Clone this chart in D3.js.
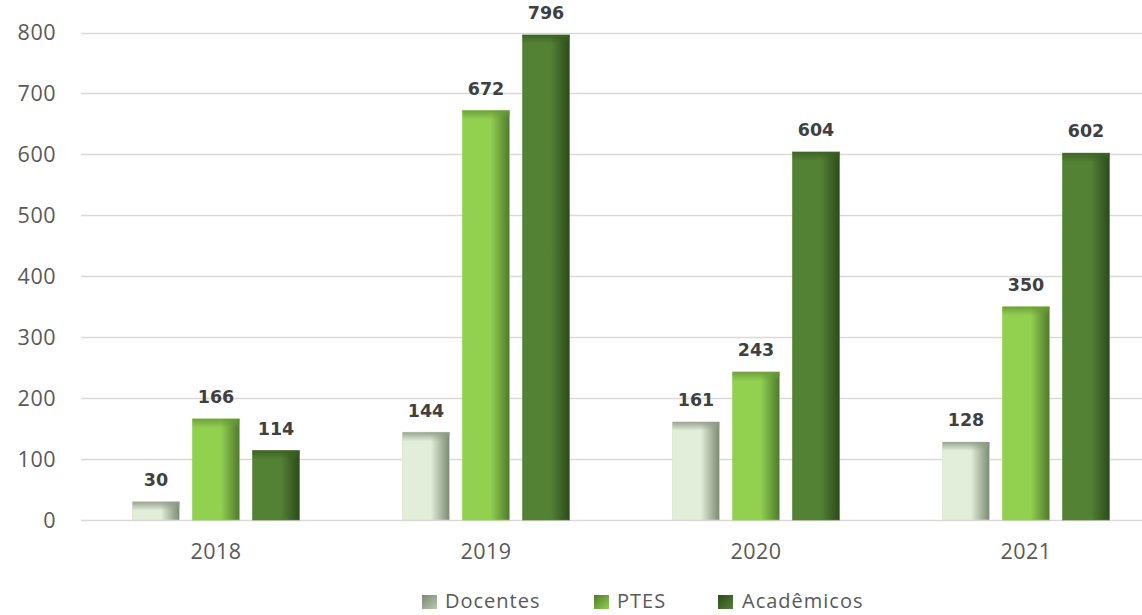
<!DOCTYPE html>
<html>
<head>
<meta charset="utf-8">
<script src="https://cdn.jsdelivr.net/npm/d3@7"></script>
<style>
  body { margin: 0; background: #fff; }
  svg { display: block; }
</style>
</head>
<body>
<div id="chart"></div>
<script>
// Chart data
const years = ["2018", "2019", "2020", "2021"];
const seriesNames = ["Docentes", "PTES", "Acadêmicos"];
const docentes = [30, 144, 161, 128];
const ptes = [166, 672, 243, 350];
const academicos = [114, 796, 604, 602];
const yTicks = [0, 100, 200, 300, 400, 500, 600, 700, 800];

const seriesValues = [docentes, ptes, academicos];

// Colours per series: face, dark edge, top bevel
const palette = [
    { face: "#e2eed9", dark: "#7b8a73", top: "#8f9c88" },
    { face: "#92d050", dark: "#4f7a2c", top: "#6b9a3d" },
    { face: "#548235", dark: "#2c4a1b", top: "#3b5f25" }
];

const width = 1142, height = 615;

const svg = d3.select("#chart")
    .append("svg")
    .attr("width", width)
    .attr("height", height);

// Scales
const x = d3.scaleBand()
    .domain(years)
    .range([81, 1161]);

const x1 = d3.scaleBand()
    .domain(seriesNames)
    .range([51.5, 218.5])
    .paddingInner(13 / 60);

const y = d3.scaleLinear()
    .domain([0, 800])
    .range([520, 32.5]);

// Gradients
const defs = svg.append("defs");
palette.forEach((p, i) => {
    const g = defs.append("linearGradient")
        .attr("id", "face" + i)
        .attr("x1", "0%").attr("x2", "100%").attr("y1", "0%").attr("y2", "0%");
    g.append("stop").attr("offset", "0%").attr("stop-color", p.face);
    g.append("stop").attr("offset", "60%").attr("stop-color", p.face);
    g.append("stop").attr("offset", "100%").attr("stop-color", p.dark);

    const t = defs.append("linearGradient")
        .attr("id", "top" + i)
        .attr("x1", "0%").attr("x2", "0%").attr("y1", "0%").attr("y2", "100%");
    t.append("stop").attr("offset", "0%").attr("stop-color", p.top).attr("stop-opacity", 0.9);
    t.append("stop").attr("offset", "100%").attr("stop-color", p.top).attr("stop-opacity", 0);

    const l = defs.append("linearGradient")
        .attr("id", "leg" + i)
        .attr("x1", "0%").attr("x2", "100%").attr("y1", "0%").attr("y2", "100%");
    l.append("stop").attr("offset", "0%").attr("stop-color", p.dark);
    l.append("stop").attr("offset", "100%").attr("stop-color", i === 0 ? "#b9c6b0" : p.face);
});

// Gridlines
svg.append("g")
    .selectAll("line")
    .data(yTicks)
    .enter()
    .append("line")
    .attr("x1", 81)
    .attr("x2", width)
    .attr("y1", d => Math.round(y(d)) + 0.5)
    .attr("y2", d => Math.round(y(d)) + 0.5)
    .attr("stroke", "#d9d9d9")
    .attr("stroke-width", 1.3);

// Y axis labels
svg.append("g")
    .selectAll("text")
    .data(yTicks)
    .enter()
    .append("text")
    .attr("x", 56)
    .attr("y", d => y(d))
    .attr("dy", "0.36em")
    .attr("text-anchor", "end")
    .attr("font-family", "Open Sans, sans-serif")
    .attr("font-size", "21.5px")
    .attr("letter-spacing", "0.5px")
    .attr("fill", "#595959")
    .text(d => d);

// X axis labels
svg.append("g")
    .selectAll("text")
    .data(years)
    .enter()
    .append("text")
    .attr("x", d => x(d) + x.bandwidth() / 2)
    .attr("y", 551)
    .attr("dy", "0.36em")
    .attr("text-anchor", "middle")
    .attr("font-family", "Open Sans, sans-serif")
    .attr("font-size", "21.5px")
    .attr("letter-spacing", "0.5px")
    .attr("fill", "#595959")
    .text(d => d);

// Bars
const groups = svg.append("g")
    .selectAll("g")
    .data(years)
    .enter()
    .append("g")
    .attr("transform", d => "translate(" + x(d) + ",0)");

groups.each(function(year, yi) {
    const g = d3.select(this);
    seriesNames.forEach((name, si) => {
        const v = seriesValues[si][yi];
        const bx = x1(name), bw = x1.bandwidth();
        const by = y(v), bh = y(0) - y(v);
        g.append("rect")
            .attr("x", bx).attr("y", by)
            .attr("width", bw).attr("height", bh)
            .attr("fill", "url(#face" + si + ")")
            .attr("stroke", si === 0 ? "#d5dfcc" : palette[si].face)
            .attr("stroke-opacity", 0.6)
            .attr("stroke-width", 1);
        g.append("rect")
            .attr("x", bx).attr("y", by)
            .attr("width", bw).attr("height", Math.min(9, bh))
            .attr("fill", "url(#top" + si + ")");
        g.append("text")
            .attr("x", bx + bw / 2)
            .attr("y", by - 22)
            .attr("dy", "0.36em")
            .attr("text-anchor", "middle")
            .attr("font-family", "DejaVu Sans, sans-serif")
            .attr("font-weight", "bold")
            .attr("font-size", "17.5px")
            .attr("fill", "#404040")
            .text(v);
    });
});

// Legend (nudged up slightly so the text is not clipped at the bottom edge)
const legendX = [422, 594, 718];
const legend = svg.append("g")
    .selectAll("g")
    .data(seriesNames)
    .enter()
    .append("g")
    .attr("transform", (d, i) => "translate(" + legendX[i] + ",595)");

legend.append("rect")
    .attr("width", 15).attr("height", 14)
    .attr("fill", (d, i) => "url(#leg" + i + ")");

legend.append("text")
    .attr("x", (d, i) => i === 2 ? 24 : 23)
    .attr("y", 13)
    .attr("font-family", "Open Sans, sans-serif")
    .attr("font-size", "20px")
    .attr("letter-spacing", "1px")
    .attr("fill", "#595959")
    .text(d => d);
</script>
</body>
</html>
